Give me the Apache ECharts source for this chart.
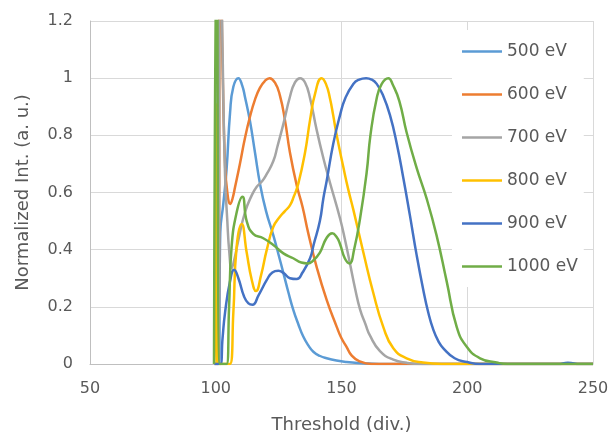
<!DOCTYPE html>
<html>
<head>
<meta charset="utf-8">
<script src="https://cdn.jsdelivr.net/npm/echarts@6/dist/echarts.min.js"></script>
<style>
html, body { margin: 0; padding: 0; background: #fff; }
#chart { width: 612px; height: 437px; }
</style>
</head>
<body>
<div id="chart"></div>
<script>
// x: threshold (div.), y: normalized intensity
var names = ['500 eV', '600 eV', '700 eV', '800 eV', '900 eV', '1000 eV'];
var colors = ['#5B9BD5', '#ED7D31', '#A5A5A5', '#FFC000', '#4472C4', '#70AD47'];

var ev500 = [[99.5,0],[101.2,0],[101.8,0.46],[103,0.56],[104.3,0.68],[105.7,0.88],[107,0.97],[109,1.0],[110.5,0.975],
	[111.6,0.935],[113.6,0.85],[115.6,0.74],[117.6,0.63],[120,0.535],[122.9,0.45],[124.9,0.385],[126.9,0.318],[128.9,0.25],
	[130.8,0.19],[132.8,0.14],[134.8,0.096],[136.8,0.065],[138.8,0.043],[141.5,0.028],[144.1,0.02],[148,0.012],
	[152,0.007],[158,0.003],[165,0],[250,0]];

var ev600 = [[99.5,0],[100.8,0],[101.8,1.5],[102.8,1.0],[103.7,0.7],[104.6,0.6],[105.8,0.56],[106.7,0.58],[107.7,0.62],
	[109.6,0.7],[111.6,0.79],[113.6,0.865],[115.6,0.925],[117.5,0.965],[119.5,0.99],[121.4,1.0],[123.5,0.985],[125.5,0.94],
	[127.5,0.854],[129.5,0.74],[132.2,0.625],[134.5,0.55],[136.8,0.457],[140.1,0.34],[144.1,0.224],[148.1,0.13],
	[150,0.09],[152,0.06],[154,0.03],[157,0.01],[162,0],[250,0]];

var ev700 = [[99.5,0],[100.8,0],[101.8,1.6],[102.8,1.05],[103.7,0.66],[104.6,0.5],[105.4,0.39],[106.3,0.335],[107.5,0.37],
	[109,0.434],[111.6,0.53],[114.3,0.59],[116.3,0.62],[118.5,0.64],[120.3,0.665],[122.9,0.71],[124.5,0.76],[126.9,0.84],
	[129.5,0.935],[131.5,0.985],[133.5,1.0],[135.5,0.985],[137.5,0.93],[140.1,0.82],[142.8,0.72],[145.4,0.635],
	[149.4,0.51],[151.5,0.43],[153.4,0.35],[155.5,0.26],[157.4,0.19],[159.5,0.14],[161.3,0.1],[165.3,0.045],
	[170.6,0.015],[176,0.004],[182,0],[250,0]];

var ev800 = [[99.5,0],[100.1,0.91],[100.7,0],[105.6,0],[107,0.18],[108.3,0.41],[110.3,0.49],[112.3,0.39],[114.3,0.295],
	[116,0.255],[118,0.31],[120.3,0.4],[122.9,0.48],[125.5,0.515],[127.5,0.535],[129.5,0.555],[131,0.585],[132.8,0.63],
	[135.5,0.74],[137.5,0.854],[139.5,0.946],[142.1,1.0],[143.8,0.98],[145.4,0.93],[146.7,0.87],[148.1,0.8],
	[150.7,0.69],[152.7,0.61],[154.7,0.54],[158.7,0.39],[162.6,0.25],[166.6,0.13],[170.6,0.055],[175.9,0.02],
	[182.4,0.005],[190,0],[250,0]];

var ev900 = [[99.5,0],[101.8,0],[102.7,0.09],[103.7,0.18],[105.7,0.29],[107.3,0.33],[109,0.3],[111.3,0.235],[113,0.212],
	[114.6,0.207],[117,0.24],[120.3,0.294],[122.5,0.32],[124.9,0.326],[127,0.318],[129.5,0.3],[132.2,0.297],
	[134.5,0.32],[137.5,0.37],[139,0.42],[141.4,0.5],[142.8,0.58],[144.1,0.64],[146.7,0.77],[149.4,0.87],
	[151.5,0.93],[154.7,0.98],[157,0.995],[159.8,1.0],[162,0.995],[164,0.98],[166.5,0.94],[169.3,0.87],[172,0.77],
	[174.6,0.65],[177.2,0.52],[179.9,0.38],[182.5,0.26],[184.5,0.18],[186.5,0.12],[188.5,0.08],[190.5,0.055],
	[195,0.02],[200,0.007],[205,0],[236,0],[240,0.004],[245,0],[250,0]];

var ev1000 = [[99.3,0],[100.4,1.6],[101.6,0],[104.3,0],[105.3,0.2],[106.3,0.41],[108.3,0.53],[110.6,0.585],[112.3,0.5],
	[114.9,0.455],[118.9,0.44],[122.9,0.416],[126.9,0.387],[130.8,0.37],[134,0.355],[136.5,0.352],[138.5,0.36],
	[141.4,0.39],[144,0.44],[146.3,0.457],[148,0.445],[149.4,0.42],[151.3,0.37],[153.2,0.352],[155,0.4],[157.4,0.51],
	[160,0.67],[161.5,0.8],[164,0.93],[166,0.98],[168.6,1.0],[170.5,0.975],[173,0.92],[175.9,0.81],[179.9,0.685],
	[183.8,0.58],[187.8,0.45],[191.8,0.29],[195.8,0.13],[199.8,0.06],[205.1,0.02],[211.7,0.005],[216,0],[250,0]];

var seriesData = [ev500, ev600, ev700, ev800, ev900, ev1000];

var font = 'DejaVu Sans';
var textColor = '#595959';

var series = [];
for (var i = 0; i < names.length; i++) {
	series.push({
		name : names[i],
		type : 'line',
		data : seriesData[i],
		smooth : 0.5,
		symbol : 'none',
		clip : true,
		lineStyle : { width : 2.5, color : colors[i] },
		itemStyle : { color : colors[i] }
	});
}

var myChart = echarts.init(document.getElementById('chart'), null, { renderer : 'canvas' });
var option = {
	animation : false,
	backgroundColor : '#fff',
	grid : { left : 90, right : 19, top : 21, bottom : 73, containLabel : false, outerBoundsMode : 'none' },
	legend : {
		orient : 'vertical',
		left : 452,
		top : 30,
		padding : [13, 6, 12, 10],
		backgroundColor : '#fff',
		icon : 'rect',
		itemWidth : 40,
		itemHeight : 2.5,
		itemGap : 26,
		textStyle : { color : textColor, fontSize : 17, fontFamily : font },
		data : names
	},
	xAxis : {
		type : 'value',
		min : 50,
		max : 250,
		interval : 50,
		name : 'Threshold (div.)',
		nameLocation : 'middle',
		nameGap : 52,
		nameTextStyle : { color : textColor, fontSize : 18, fontFamily : font },
		axisLine : { lineStyle : { color : '#bfbfbf', width : 1 } },
		axisTick : { show : false },
		axisLabel : { color : textColor, fontSize : 16, fontFamily : font, margin : 17 },
		splitLine : { show : true, lineStyle : { color : '#d9d9d9', width : 1 } }
	},
	yAxis : {
		type : 'value',
		min : 0,
		max : 1.2,
		interval : 0.2,
		name : 'Normalized Int. (a. u.)',
		nameLocation : 'middle',
		nameGap : 58,
		nameTextStyle : { color : textColor, fontSize : 18, fontFamily : font },
		axisLine : { show : true, lineStyle : { color : '#bfbfbf', width : 1 } },
		axisTick : { show : false },
		axisLabel : { color : textColor, fontSize : 16, fontFamily : font, margin : 17 },
		splitLine : { show : true, lineStyle : { color : '#d9d9d9', width : 1 } }
	},
	series : series
};
myChart.setOption(option);
</script>
</body>
</html>
